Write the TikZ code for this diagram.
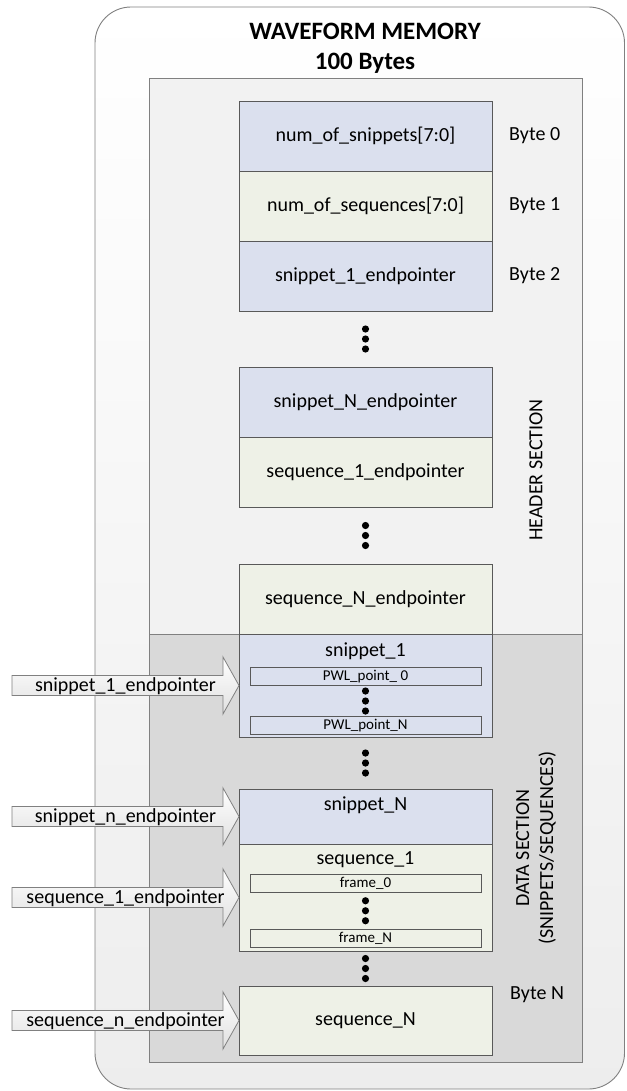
\documentclass[tikz,border=0pt]{standalone}
\usepackage{fontspec}
\setmainfont{Carlito}
\usepackage{tikz}
\usetikzlibrary{positioning,calc}

\definecolor{snipblue}{HTML}{DBE0EE}
\definecolor{seqgreen}{HTML}{EEF1E7}
\definecolor{hdrfill}{HTML}{F2F2F2}
\definecolor{datfill}{HTML}{D9D9D9}
\definecolor{blkline}{HTML}{595959}
\definecolor{secline}{HTML}{808080}

% pointer arrow into a block: target, name, text
\newcommand{\ptrarrow}[3]{%
  \draw[ptrshape] ($(#1.west)+(-227,-10)$) -- ($(#1.west)+(-16,-10)$) -- ($(#1.west)+(-16,-28.5)$)
    -- (#1.west) -- ($(#1.west)+(-16,28.5)$) -- ($(#1.west)+(-16,10)$) -- ($(#1.west)+(-227,10)$) -- cycle;
  \node[ptrlbl] (#2) at ($(#1.west)+(-113.5,1)$) {#3};}
% three dots
\newcommand{\vdotz}[1]{%
  \foreach \d in {-10,0,10} \fill ($(#1)+(0,\d)$) circle (3.6);}

\begin{document}
\begin{tikzpicture}[x=1pt,y=-1pt,
  txt/.style={font=\fontsize{20}{24}\selectfont},
  blk/.style={txt,draw=blkline,line width=0.8pt,minimum width=253pt,minimum height=70pt,inner sep=0pt,outer sep=0pt},
  snipblk/.style={blk,fill=snipblue},
  seqblk/.style={blk,fill=seqgreen},
  subbox/.style={draw=blkline,line width=0.7pt,minimum width=231pt,minimum height=18pt,inner sep=0pt,font=\fontsize{15}{18}\selectfont},
  bytelbl/.style={txt,inner sep=0pt},
  ptrshape/.style={draw=secline,line width=0.8pt,top color=white,bottom color=black!12},
  ptrlbl/.style={txt,inner sep=0pt}]
\useasboundingbox (0,0) rectangle (626,1091);
% Outer memory box
\draw[draw=secline,line width=0.9pt,rounded corners=36pt,top color=white,bottom color=black!7] (95,7) rectangle (624.5,1089);
\node[font=\fontsize{25}{30}\selectfont\bfseries] (title) at (365,31) {WAVEFORM MEMORY};
\node[font=\fontsize{25}{30}\selectfont\bfseries] (size) at (365,63) {100 Bytes};
% Sections
\draw[draw=secline,line width=0.8pt,fill=hdrfill] (149,78) rectangle (582,634);
\draw[draw=secline,line width=0.8pt,fill=datfill] (149,634) rectangle (582,1062);
\node[txt,rotate=90] (hdrlbl) at (536,470) {HEADER SECTION};
\node[txt,rotate=90,align=center] (datlbl) at (536,848) {DATA SECTION\\(SNIPPETS/SEQUENCES)};
% Header blocks
\node[snipblk] (nsnip) at (365.5,136) {num\_of\_snippets[7:0]};
\node[seqblk,below=0pt of nsnip] (nseq) {num\_of\_sequences[7:0]};
\node[snipblk,below=0pt of nseq] (snip1ep) {snippet\_1\_endpointer};
\node[snipblk,below=56pt of snip1ep] (snipNep) {snippet\_N\_endpointer};
\node[seqblk,below=0pt of snipNep] (seq1ep) {sequence\_1\_endpointer};
\node[seqblk,below=57pt of seq1ep] (seqNep) {sequence\_N\_endpointer};
\vdotz{$(snip1ep.south)!0.5!(snipNep.north)$}
\vdotz{$(seq1ep.south)!0.5!(seqNep.north)$}
\node[bytelbl,right=17pt of nsnip] (b0) {Byte 0};
\node[bytelbl,right=17pt of nseq] (b1) {Byte 1};
\node[bytelbl,right=17pt of snip1ep] (b2) {Byte 2};
% Data blocks
\node[snipblk,minimum height=103pt,below=0pt of seqNep] (snip1) {};
\node[txt] (snip1t) at ($(snip1.north)+(0,17)$) {snippet\_1};
\node[subbox,fill=snipblue] (pwl0) at ($(snip1.north)+(0,42.5)$) {PWL\_point\_ 0};
\node[subbox,fill=snipblue] (pwlN) at ($(snip1.north)+(0,91.5)$) {PWL\_point\_N};
\vdotz{$(pwl0.south)!0.5!(pwlN.north)$}
\node[snipblk,minimum height=55pt,below=52pt of snip1] (snipN) {};
\node[txt] (snipNt) at ($(snipN.north)+(0,16)$) {snippet\_N};
\vdotz{$(snip1.south)!0.5!(snipN.north)$}
\node[seqblk,minimum height=107pt,below=0pt of snipN] (seq1) {};
\node[txt] (seq1t) at ($(seq1.north)+(0,16)$) {sequence\_1};
\node[subbox,fill=seqgreen] (frm0) at ($(seq1.north)+(0,39)$) {frame\_0};
\node[subbox,fill=seqgreen] (frmN) at ($(seq1.north)+(0,94.5)$) {frame\_N};
\vdotz{$(frm0.south)!0.5!(frmN.north)$}
\node[seqblk,minimum height=69pt,below=35pt of seq1] (seqN) {sequence\_N};
\vdotz{$(seq1.south)!0.5!(seqN.north)$}
\node[bytelbl,anchor=west] (bN) at ($(seqN.north east)+(18,9)$) {Byte N};
% Pointer arrows
\ptrarrow{snip1}{p1}{snippet\_1\_endpointer}
\ptrarrow{snipN}{p2}{snippet\_n\_endpointer}
\ptrarrow{seq1}{p3}{sequence\_1\_endpointer}
\ptrarrow{seqN}{p4}{sequence\_n\_endpointer}
\end{tikzpicture}
\end{document}
